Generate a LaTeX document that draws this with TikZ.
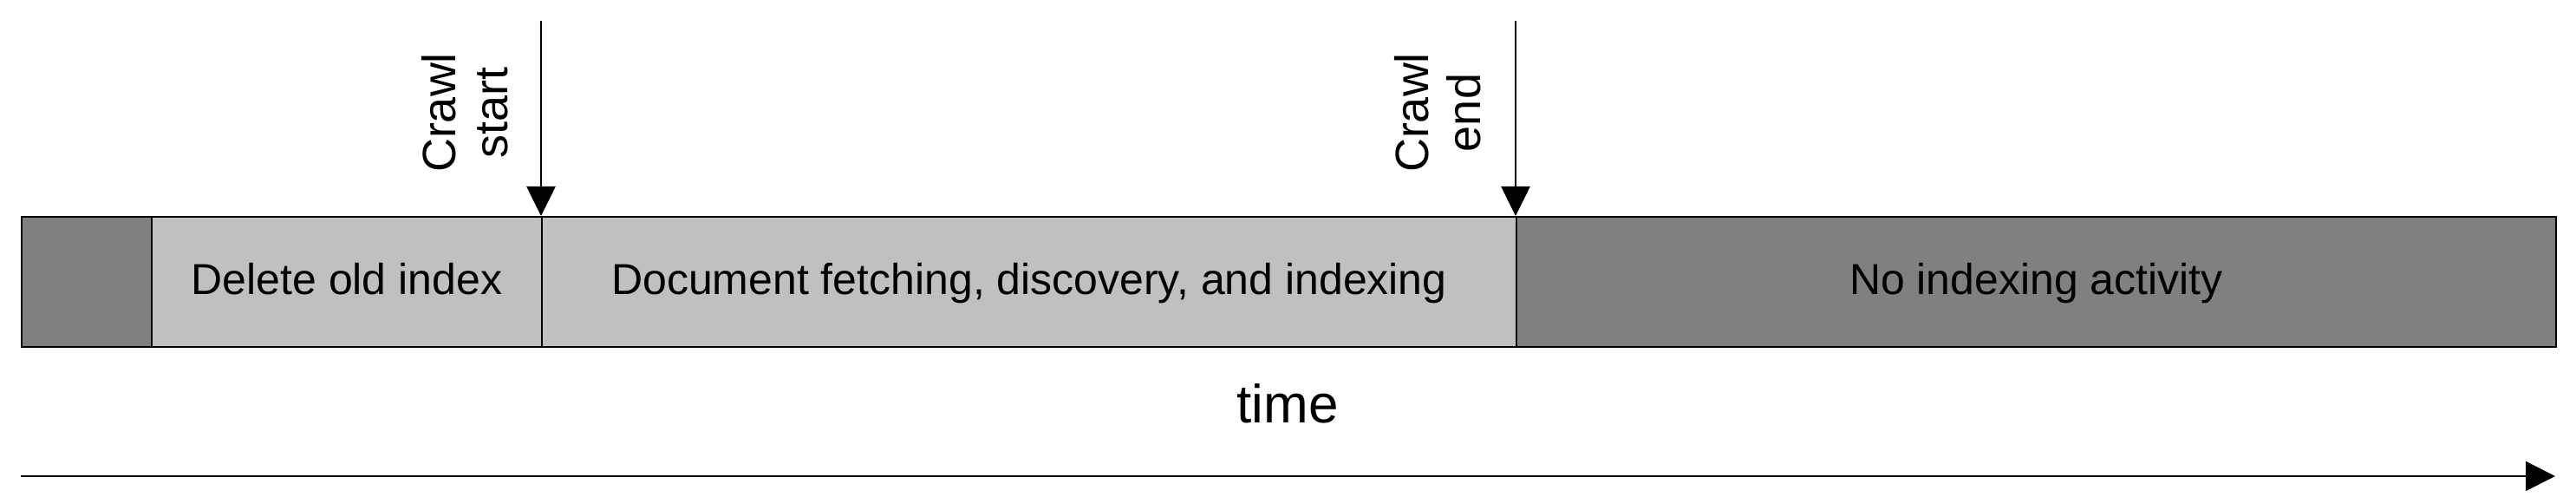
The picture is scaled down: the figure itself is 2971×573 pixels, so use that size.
\documentclass[tikz,border=0pt]{standalone}
\usepackage{fontspec}
\setmainfont{Liberation Sans}
\usetikzlibrary{arrows.meta}
\definecolor{darkseg}{HTML}{808080}
\definecolor{lightseg}{HTML}{C0C0C0}
\begin{document}
\begin{tikzpicture}[x=0.25pt,y=-0.25pt,
  seg/.style={draw=black,line width=0.5pt,anchor=north west,inner sep=0pt,
    minimum height=37.5pt,text height=9pt,text depth=1.5pt,
    font=\fontsize{12.5}{15}\selectfont},
  darkbox/.style={seg,fill=darkseg},
  lightbox/.style={seg,fill=lightseg},
  crawllabel/.style={rotate=90,anchor=south,inner sep=0pt,align=center,
    font=\fontsize{13.5}{15}\selectfont},
  marker/.style={line width=0.5pt,-{Triangle[length=8.5pt,width=8.3pt]}},
  axis/.style={line width=0.5pt,-{Triangle[length=8.5pt,width=8.5pt]}}]
\useasboundingbox (0,0) rectangle (2971,573);
\node[darkbox,minimum width=37.5pt] (s0) at (24,249) {};
\node[lightbox,minimum width=112.5pt] (s1) at (174,249) {Delete old index};
\node[lightbox,minimum width=281pt] (s2) at (624,249) {Document fetching, discovery, and indexing};
\node[darkbox,minimum width=299.75pt] (s3) at (1748,249) {No indexing activity};
\coordinate (cs) at (624,24);
\coordinate (ce) at (1748,24);
\draw[marker] (cs) -- (s2.north west);
\draw[marker] (ce) -- (s3.north west);
\node[crawllabel] (lcs) at (587,130) {Crawl\\start};
\node[crawllabel] (lce) at (1709,130) {Crawl\\end};
\node[anchor=base,inner sep=0pt,font=\fontsize{15.5}{18}\selectfont] (time) at (1485,488) {time};
\coordinate (t0) at (24,549);
\coordinate (t1) at (2947,549);
\draw[axis] (t0) -- (t1);
\end{tikzpicture}
\end{document}
